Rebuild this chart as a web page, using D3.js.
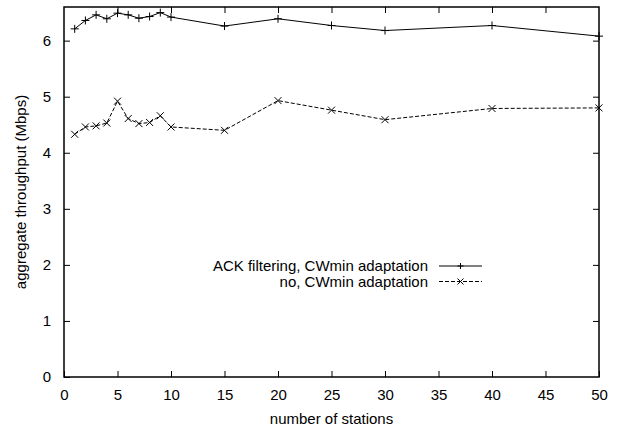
<!DOCTYPE html>
<html>
<head>
<meta charset="utf-8">
<script src="https://cdn.jsdelivr.net/npm/d3@7"></script>
<style>
  body { margin: 0; background: #fff; }
  text { font-family: "Liberation Sans", Arial, sans-serif; fill: #000; }
</style>
</head>
<body>
<div id="chart"></div>
<script>
// number of stations
const stations = [1, 2, 3, 4, 5, 6, 7, 8, 9, 10, 15, 20, 25, 30, 40, 50];
// ACK filtering, CWmin adaptation
const ackFiltering = [6.21, 6.36, 6.46, 6.39, 6.49, 6.46, 6.40, 6.43, 6.50, 6.42, 6.26, 6.39, 6.27, 6.18, 6.27, 6.08];
// no, CWmin adaptation
const noFiltering = [4.33, 4.46, 4.48, 4.53, 4.92, 4.61, 4.52, 4.54, 4.66, 4.46, 4.40, 4.93, 4.76, 4.59, 4.79, 4.80];
const xTicks = [0, 5, 10, 15, 20, 25, 30, 35, 40, 45, 50];
const yTicks = [0, 1, 2, 3, 4, 5, 6];
const seriesNames = ['ACK filtering, CWmin adaptation', 'no, CWmin adaptation'];

const width = 622, height = 429;
const margin = { top: 7, right: 23, bottom: 52, left: 64 };
const w = width - margin.left - margin.right;
const h = height - margin.top - margin.bottom;
const fontSize = '15px';

const svg = d3.select('#chart').append('svg')
  .attr('width', width)
  .attr('height', height);

const g = svg.append('g')
  .attr('transform', 'translate(' + margin.left + ',' + margin.top + ')');

const xScale = d3.scaleLinear().domain([0, 50]).range([0, w]);
const yScale = d3.scaleLinear().domain([0, 6.6]).range([h, 0]);

const tickLen = 6;

// bottom axis with labels
g.append('g')
  .attr('transform', 'translate(0,' + h + ')')
  .call(d3.axisBottom(xScale).tickValues(xTicks).tickFormat(d3.format('d')).tickSizeInner(-tickLen).tickSizeOuter(0).tickPadding(12))
  .call(a => a.select('.domain').remove())
  .call(a => a.selectAll('text').style('font-size', fontSize));

// top mirror ticks
g.append('g')
  .call(d3.axisTop(xScale).tickValues(xTicks.slice(1, -1)).tickSizeInner(-tickLen).tickSizeOuter(0).tickFormat(''))
  .call(a => a.select('.domain').remove());

// left axis with labels
g.append('g')
  .call(d3.axisLeft(yScale).tickValues(yTicks).tickFormat(d3.format('d')).tickSizeInner(-tickLen).tickSizeOuter(0).tickPadding(13))
  .call(a => a.select('.domain').remove())
  .call(a => a.selectAll('text').style('font-size', fontSize));

// right mirror ticks
g.append('g')
  .attr('transform', 'translate(' + w + ',0)')
  .call(d3.axisRight(yScale).tickValues(yTicks.slice(1)).tickSizeInner(-tickLen).tickSizeOuter(0).tickFormat(''))
  .call(a => a.select('.domain').remove());

g.selectAll('.tick line').attr('stroke', '#000').attr('stroke-width', 1);

// border box
g.append('rect')
  .attr('width', w)
  .attr('height', h)
  .attr('fill', 'none')
  .attr('stroke', '#000')
  .attr('stroke-width', 1.5);

const line = d3.line()
  .x((d) => xScale(d.x))
  .y((d) => yScale(d.y));

const series = [
  { name: seriesNames[0], values: stations.map((x, i) => ({ x, y: ackFiltering[i] })), dash: null, marker: 'plus' },
  { name: seriesNames[1], values: stations.map((x, i) => ({ x, y: noFiltering[i] })), dash: '4,2', marker: 'cross' }
];

function drawMarker(sel, type, s) {
  if (type === 'plus') {
    sel.append('path').attr('d', 'M' + (-s) + ',0H' + s + 'M0,' + (-s) + 'V' + s);
  } else {
    sel.append('path').attr('d', 'M' + (-s) + ',' + (-s) + 'L' + s + ',' + s + 'M' + (-s) + ',' + s + 'L' + s + ',' + (-s));
  }
  sel.selectAll('path').attr('stroke', '#000').attr('stroke-width', 1).attr('fill', 'none');
}

series.forEach((sr) => {
  g.append('path')
    .attr('d', line(sr.values))
    .attr('fill', 'none')
    .attr('stroke', '#000')
    .attr('stroke-width', 1)
    .attr('stroke-dasharray', sr.dash);

  g.selectAll('.pt-' + sr.marker)
    .data(sr.values)
    .enter().append('g')
      .attr('transform', (d) => 'translate(' + xScale(d.x) + ',' + yScale(d.y) + ')')
      .each(function () { drawMarker(d3.select(this), sr.marker, sr.marker === 'plus' ? 4 : 3.5); });
});

// legend
const legend = svg.append('g');
series.forEach((sr, i) => {
  const yy = 266 + i * 15.5;
  legend.append('text')
    .attr('x', 428)
    .attr('y', yy)
    .attr('dy', '0.35em')
    .attr('text-anchor', 'end')
    .style('font-size', fontSize)
    .text(sr.name);
  legend.append('line')
    .attr('x1', 439).attr('x2', 482)
    .attr('y1', yy).attr('y2', yy)
    .attr('stroke', '#000')
    .attr('stroke-width', 1)
    .attr('stroke-dasharray', sr.dash);
  const m = legend.append('g').attr('transform', 'translate(460.5,' + yy + ')');
  drawMarker(m, sr.marker, 3);
});

// axis titles
svg.append('text')
  .attr('x', margin.left + w / 2)
  .attr('y', 419)
  .attr('dy', '0.35em')
  .attr('text-anchor', 'middle')
  .style('font-size', fontSize)
  .text('number of stations');

svg.append('text')
  .attr('transform', 'translate(21,' + (margin.top + h / 2) + ') rotate(-90)')
  .attr('dy', '0.35em')
  .attr('text-anchor', 'middle')
  .style('font-size', fontSize)
  .text('aggregate throughput (Mbps)');
</script>
</body>
</html>
